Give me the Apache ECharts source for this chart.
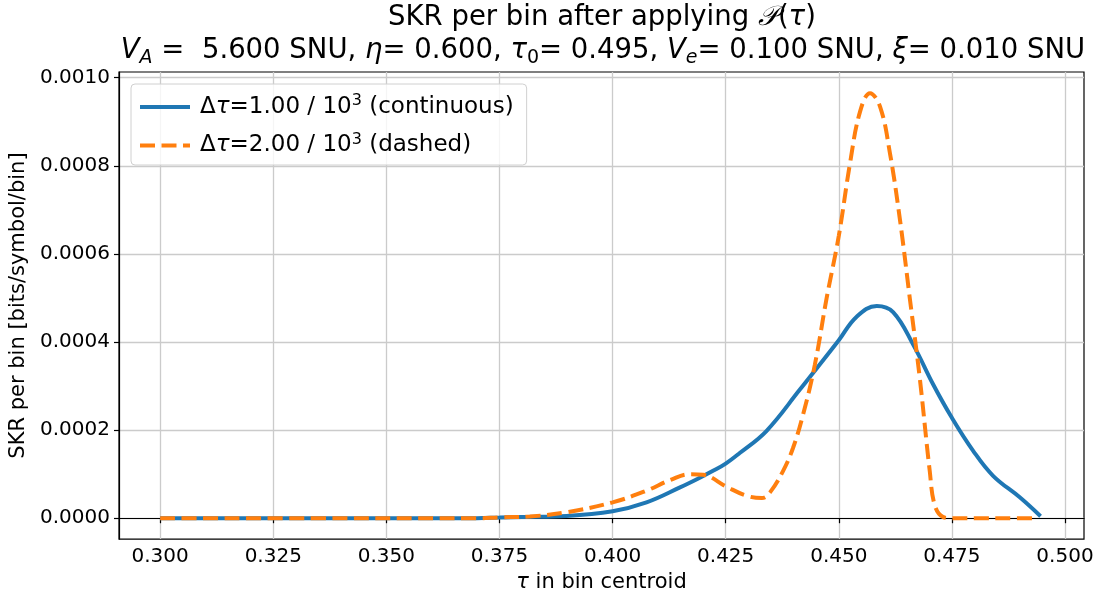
<!DOCTYPE html>
<html>
<head>
<meta charset="utf-8">
<script src="https://cdn.jsdelivr.net/npm/echarts@6/dist/echarts.min.js"></script>
<style>
  html, body { margin: 0; padding: 0; background: #fff; }
  #chart { width: 1097px; height: 598px; }
</style>
</head>
<body>
<div id="chart"></div>
<script>
// tick positions
const xTicks = [0.300, 0.325, 0.350, 0.375, 0.400, 0.425, 0.450, 0.475, 0.500];
const yTicks = [0.0000, 0.0002, 0.0004, 0.0006, 0.0008, 0.0010];

// continuous curve, dtau = 1.00e-3 (tau, SKR)
const tauA = [0.300, 0.340, 0.370, 0.375, 0.380, 0.3898, 0.400, 0.4075, 0.4149, 0.4194, 0.4222,
  0.425, 0.4281, 0.4340, 0.4414, 0.4451, 0.4500, 0.4539, 0.4584, 0.4620, 0.4665,
  0.4709, 0.4750, 0.4797, 0.4841, 0.4900, 0.4946];
const skrA = [0, 0, 0, 0.0000015, 0.000003, 0.0000052, 0.0000158, 0.000036, 0.00007, 0.0000925, 0.0001075,
  0.000124, 0.000148, 0.000198, 0.000292, 0.00034, 0.000404, 0.000457, 0.000482, 0.000468, 0.000393,
  0.000303, 0.000228, 0.000153, 0.0000963, 0.0000474, 0.0000045];

// dashed curve, dtau = 2.00e-3 (tau, SKR)
const tauB = [0.300, 0.340, 0.370, 0.3749, 0.3817, 0.3898, 0.400, 0.4075, 0.4127, 0.4171, 0.4200,
  0.4252, 0.4296, 0.4330, 0.4348, 0.4377, 0.4399, 0.4421, 0.4447, 0.4473, 0.4500,
  0.4525, 0.4547, 0.4569, 0.4591, 0.4613, 0.4635, 0.4657, 0.4679, 0.4701, 0.4712,
  0.4730, 0.4750, 0.4800, 0.4870, 0.4935];
const skrB = [0, 0, 0, 0.000002, 0.000004, 0.0000135, 0.000036, 0.0000625, 0.0000865, 0.0001, 0.0000985,
  0.0000715, 0.0000512, 0.0000458, 0.0000587, 0.0001075, 0.00016, 0.000235, 0.000348, 0.000499, 0.000641,
  0.000807, 0.000923, 0.000965, 0.000935, 0.000829, 0.000679, 0.000499, 0.000318, 0.0001075, 0.00003,
  0.000003, 0, 0, 0, 0];

const nameA = 'Δτ=1.00 / 10^3 (continuous)';
const nameB = 'Δτ=2.00 / 10^3 (dashed)';

const FONT = 'DejaVu Sans';
const chart = echarts.init(document.getElementById('chart'), null, { renderer: 'canvas' });

const pairs = (xs, ys) => xs.map((x, i) => [x, ys[i]]);

const option = {
  animation: false,
  backgroundColor: '#fff',
  textStyle: { fontFamily: FONT },
  grid: {
    left: 119, right: 13, top: 72, bottom: 56,
    show: true, borderColor: '#000', borderWidth: 1.2
  },
  graphic: [
    {
      type: 'text', x: 602, y: 18, z: 10,
      style: {
        text: '{n|SKR per bin after applying }{p|𝒫}{n|(}{i|τ}{n|)}',
        textAlign: 'center', textVerticalAlign: 'middle',
        rich: {
          n: { fontFamily: FONT, fontSize: 27.5, fill: '#000' },
          i: { fontFamily: FONT, fontStyle: 'italic', fontSize: 27.5, fill: '#000' },
          p: { fontFamily: 'DejaVu Serif', fontStyle: 'italic', fontSize: 27.5, fill: '#000' }
        }
      }
    },
    {
      type: 'text', x: 603, y: 51, z: 10,
      style: {
        text: '{i|V}{s|A}{n| =  5.600 SNU, }{i|η}{n|= 0.600, }{i|τ}{d|0}{n|= 0.495, }' +
              '{i|V}{s|e}{n|= 0.100 SNU, }{i|ξ}{n|= 0.010 SNU}',
        textAlign: 'center', textVerticalAlign: 'middle',
        rich: {
          n: { fontFamily: FONT, fontSize: 27.5, lineHeight: 34, fill: '#000' },
          i: { fontFamily: FONT, fontStyle: 'italic', fontSize: 27.5, lineHeight: 34, fill: '#000' },
          s: { fontFamily: FONT, fontStyle: 'italic', fontSize: 19, lineHeight: 21, verticalAlign: 'bottom', fill: '#000' },
          d: { fontFamily: FONT, fontSize: 19, lineHeight: 21, verticalAlign: 'bottom', fill: '#000' }
        }
      }
    }
  ],
  legend: {
    orient: 'vertical',
    left: 131, top: 84,
    padding: [9, 13, 8, 7],
    itemWidth: 50, itemHeight: 4, itemGap: 13,
    backgroundColor: 'rgba(255,255,255,0.8)',
    borderColor: '#d0d0d0', borderWidth: 1, borderRadius: 4,
    itemStyle: { opacity: 0 },
    lineStyle: { width: 4 },
    data: [nameA, nameB],
    formatter: function (name) {
      if (name === nameA) return '{n|Δ}{i|τ}{n|=1.00 / 10}{sup|3}{n| (continuous)}';
      return '{n|Δ}{i|τ}{n|=2.00 / 10}{sup|3}{n| (dashed)}';
    },
    textStyle: {
      fontFamily: FONT, fontSize: 23, color: '#000', padding: [0, 0, 0, 5],
      rich: {
        n: { fontFamily: FONT, fontSize: 23, lineHeight: 28, color: '#000' },
        i: { fontFamily: FONT, fontStyle: 'italic', fontSize: 23, lineHeight: 28, color: '#000' },
        sup: { fontFamily: FONT, fontSize: 16, lineHeight: 16, verticalAlign: 'top', color: '#000' }
      }
    }
  },
  xAxis: {
    type: 'value',
    min: 0.2909, max: 0.5042,
    name: '{i|τ} in bin centroid',
    nameLocation: 'middle', nameGap: 31,
    nameTextStyle: {
      fontFamily: FONT, fontSize: 21, color: '#000',
      rich: {
        i: { fontFamily: FONT, fontStyle: 'italic', fontSize: 21, color: '#000' }
      }
    },
    axisLine: { show: true, lineStyle: { color: '#000', width: 1.2 } },
    axisTick: { show: true, length: 5, customValues: xTicks, lineStyle: { color: '#000', width: 1.2 } },
    axisLabel: {
      customValues: xTicks, margin: 8,
      fontFamily: FONT, fontSize: 20, color: '#000',
      formatter: v => v.toFixed(3)
    },
    splitLine: { show: true, lineStyle: { color: '#cbcbcb', width: 1.3 } }
  },
  yAxis: {
    type: 'value',
    min: -0.0000474, max: 0.001013,
    name: 'SKR per bin [bits/symbol/bin]',
    nameLocation: 'middle', nameGap: 88,
    nameTextStyle: { fontFamily: FONT, fontSize: 21, color: '#000' },
    axisLine: { show: true, lineStyle: { color: '#000', width: 1.2 } },
    axisTick: { show: true, length: 5, customValues: yTicks, lineStyle: { color: '#000', width: 1.2 } },
    axisLabel: {
      customValues: yTicks, margin: 9,
      fontFamily: FONT, fontSize: 20, color: '#000',
      formatter: v => v.toFixed(4)
    },
    splitLine: { show: true, lineStyle: { color: '#cbcbcb', width: 1.3 } }
  },
  series: [
    {
      name: nameA, type: 'line',
      data: pairs(tauA, skrA),
      showSymbol: false, symbol: 'none',
      smooth: 0.4,
      color: '#1f77b4',
      lineStyle: { color: '#1f77b4', width: 4 },
      z: 3
    },
    {
      name: nameB, type: 'line',
      data: pairs(tauB, skrB),
      showSymbol: false, symbol: 'none',
      smooth: 0.4,
      color: '#ff7f0e',
      lineStyle: { color: '#ff7f0e', width: 4, type: [15, 6.5] },
      z: 4
    }
  ]
};

chart.setOption(option);
</script>
</body>
</html>
